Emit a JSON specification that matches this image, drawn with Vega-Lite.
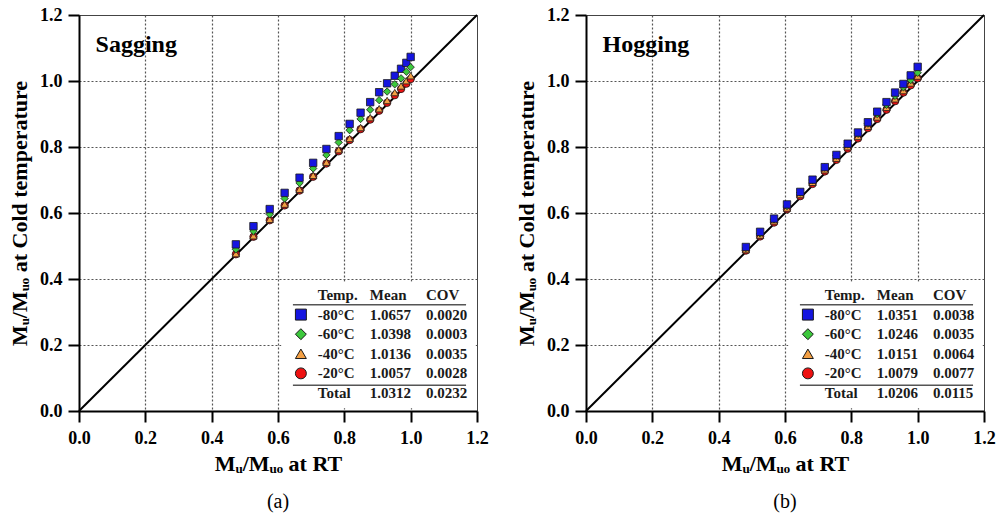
{
  "$schema": "https://vega.github.io/schema/vega-lite/v6.json",
  "autosize": {"type": "pad"},
  "padding": {"left": 8, "top": 5, "right": 5, "bottom": 5},
  "background": "white",
  "config": {
    "view": {"stroke": "#444", "strokeWidth": 1},
    "font": "Liberation Serif",
    "axis": {"labelFont": "Liberation Serif", "labelFontWeight": "bold", "labelFontSize": 18, "labelColor": "black",
             "titleFont": "Liberation Serif", "titleFontWeight": "bold", "titleFontSize": 22, "titleColor": "black",
             "tickWidth": 2, "domainColor": "black", "domainWidth": 2}
  },
  "bounds": "flush",
  "spacing": 109,
  "datasets": {
    "sag": [
      {"rt": 0.473, "t80": 0.505, "t60": 0.490, "t40": 0.477, "t20": 0.475},
      {"rt": 0.526, "t80": 0.560, "t60": 0.545, "t40": 0.531, "t20": 0.528},
      {"rt": 0.575, "t80": 0.612, "t60": 0.596, "t40": 0.581, "t20": 0.578},
      {"rt": 0.620, "t80": 0.661, "t60": 0.644, "t40": 0.627, "t20": 0.623},
      {"rt": 0.665, "t80": 0.707, "t60": 0.691, "t40": 0.672, "t20": 0.668},
      {"rt": 0.706, "t80": 0.752, "t60": 0.735, "t40": 0.714, "t20": 0.710},
      {"rt": 0.746, "t80": 0.794, "t60": 0.776, "t40": 0.754, "t20": 0.750},
      {"rt": 0.783, "t80": 0.833, "t60": 0.814, "t40": 0.792, "t20": 0.787},
      {"rt": 0.816, "t80": 0.870, "t60": 0.851, "t40": 0.826, "t20": 0.821},
      {"rt": 0.849, "t80": 0.904, "t60": 0.885, "t40": 0.859, "t20": 0.854},
      {"rt": 0.878, "t80": 0.936, "t60": 0.913, "t40": 0.889, "t20": 0.883},
      {"rt": 0.905, "t80": 0.966, "t60": 0.942, "t40": 0.916, "t20": 0.910},
      {"rt": 0.929, "t80": 0.993, "t60": 0.968, "t40": 0.941, "t20": 0.934},
      {"rt": 0.952, "t80": 1.016, "t60": 0.990, "t40": 0.965, "t20": 0.957},
      {"rt": 0.971, "t80": 1.037, "t60": 1.008, "t40": 0.985, "t20": 0.976},
      {"rt": 0.987, "t80": 1.055, "t60": 1.028, "t40": 1.001, "t20": 0.992},
      {"rt": 1.000, "t80": 1.073, "t60": 1.042, "t40": 1.016, "t20": 1.006}
    ],
    "hog": [
      {"rt": 0.482, "t80": 0.497, "t60": 0.494, "t40": 0.489, "t20": 0.486},
      {"rt": 0.525, "t80": 0.543, "t60": 0.538, "t40": 0.533, "t20": 0.529},
      {"rt": 0.567, "t80": 0.583, "t60": 0.581, "t40": 0.576, "t20": 0.571},
      {"rt": 0.606, "t80": 0.626, "t60": 0.621, "t40": 0.615, "t20": 0.611},
      {"rt": 0.646, "t80": 0.664, "t60": 0.662, "t40": 0.656, "t20": 0.651},
      {"rt": 0.683, "t80": 0.701, "t60": 0.700, "t40": 0.693, "t20": 0.688},
      {"rt": 0.720, "t80": 0.739, "t60": 0.738, "t40": 0.731, "t20": 0.726},
      {"rt": 0.755, "t80": 0.776, "t60": 0.774, "t40": 0.766, "t20": 0.761},
      {"rt": 0.789, "t80": 0.810, "t60": 0.808, "t40": 0.801, "t20": 0.795},
      {"rt": 0.820, "t80": 0.844, "t60": 0.840, "t40": 0.832, "t20": 0.826},
      {"rt": 0.850, "t80": 0.875, "t60": 0.871, "t40": 0.863, "t20": 0.857},
      {"rt": 0.878, "t80": 0.907, "t60": 0.900, "t40": 0.891, "t20": 0.885},
      {"rt": 0.906, "t80": 0.936, "t60": 0.928, "t40": 0.920, "t20": 0.913},
      {"rt": 0.932, "t80": 0.965, "t60": 0.955, "t40": 0.946, "t20": 0.939},
      {"rt": 0.957, "t80": 0.991, "t60": 0.981, "t40": 0.971, "t20": 0.965},
      {"rt": 0.979, "t80": 1.017, "t60": 1.003, "t40": 0.994, "t20": 0.987},
      {"rt": 1.000, "t80": 1.043, "t60": 1.025, "t40": 1.015, "t20": 1.008}
    ],
    "sagTable": [
      {"row": 0, "label": "Temp.", "mean": "Mean", "cov": "COV"},
      {"row": 1, "key": "t80", "label": "-80°C", "mean": "1.0657", "cov": "0.0020"},
      {"row": 2, "key": "t60", "label": "-60°C", "mean": "1.0398", "cov": "0.0003"},
      {"row": 3, "key": "t40", "label": "-40°C", "mean": "1.0136", "cov": "0.0035"},
      {"row": 4, "key": "t20", "label": "-20°C", "mean": "1.0057", "cov": "0.0028"},
      {"row": 5, "label": "Total", "mean": "1.0312", "cov": "0.0232"}
    ],
    "hogTable": [
      {"row": 0, "label": "Temp.", "mean": "Mean", "cov": "COV"},
      {"row": 1, "key": "t80", "label": "-80°C", "mean": "1.0351", "cov": "0.0038"},
      {"row": 2, "key": "t60", "label": "-60°C", "mean": "1.0246", "cov": "0.0035"},
      {"row": 3, "key": "t40", "label": "-40°C", "mean": "1.0151", "cov": "0.0064"},
      {"row": 4, "key": "t20", "label": "-20°C", "mean": "1.0079", "cov": "0.0077"},
      {"row": 5, "label": "Total", "mean": "1.0206", "cov": "0.0115"}
    ]
  },
  "hconcat": [
    {
      "width": 398, "height": 396,
      "title": {"text": "(a)", "orient": "bottom", "fontSize": 20, "fontWeight": "normal", "font": "Liberation Serif", "offset": 18, "color": "black"},
      "layer": [
        {"data": {"values": [{}]}, "mark": {"type": "rule", "strokeWidth": 2, "color": "black"},
         "encoding": {
           "x": {"datum": 0, "type": "quantitative", "scale": {"domain": [0, 1.2], "nice": false, "zero": false}, "axis": null},
           "x2": {"datum": 1.2},
           "y": {"datum": 0, "type": "quantitative", "scale": {"domain": [0, 1.2], "nice": false, "zero": false}, "axis": null},
           "y2": {"datum": 1.2}}},
        {
          "layer": [
            {"data": {"values": [{}]}, "mark": {"type": "rect", "fill": "white"},
             "encoding": {"x": {"datum": 0.61, "type": "quantitative"}, "x2": {"datum": 1.196},
                          "y": {"datum": 0.008, "type": "quantitative"}, "y2": {"datum": 0.392}}},
            {"data": {"name": "sag"},
             "transform": [{"fold": ["t20", "t40", "t60", "t80"], "as": ["key", "cold"]}],
             "mark": {"type": "point", "filled": true, "size": 55, "stroke": "#1a1a1a", "strokeWidth": 0.8, "opacity": 1},
             "encoding": {
               "x": {"field": "rt", "type": "quantitative", "scale": {"domain": [0, 1.2], "nice": false, "zero": false},
                     "axis": {"orient": "bottom", "values": [0, 0.2, 0.4, 0.6, 0.8, 1.0, 1.2], "format": ".1f",
                              "title": "Mᵤ/Mᵤₒ at RT",
                              "labelOverlap": false, "labelFlush": false, "ticks": true, "tickSize": 11, "tickColor": "black", "tickOpacity": 1,
                              "grid": true, "gridColor": "#555", "gridDash": [2, 2], "gridWidth": 1.2,
                              "gridOpacity": {"condition": {"test": "datum.value < 0.05 || datum.value > 1.15", "value": 0}, "value": 1},
                              "labelFont": "Liberation Serif", "labelFontWeight": "bold", "labelFontSize": 18, "labelPadding": 7, "titlePadding": 6}},
               "y": {"field": "cold", "type": "quantitative", "scale": {"domain": [0, 1.2], "nice": false, "zero": false},
                     "axis": {"orient": "left", "values": [0, 0.2, 0.4, 0.6, 0.8, 1.0, 1.2], "format": ".1f",
                              "title": "Mᵤ/Mᵤₒ at Cold temperature",
                              "labelOverlap": false, "labelFlush": false, "ticks": true, "tickSize": 11, "tickColor": "black", "tickOpacity": 1,
                              "grid": true, "gridColor": "#555", "gridDash": [2, 2], "gridWidth": 1.2,
                              "gridOpacity": {"condition": {"test": "datum.value < 0.05 || datum.value > 1.15", "value": 0}, "value": 1},
                              "labelFont": "Liberation Serif", "labelFontWeight": "bold", "labelFontSize": 18, "labelPadding": 6, "titlePadding": 8}},
               "shape": {"field": "key", "type": "nominal", "scale": {"domain": ["t80", "t60", "t40", "t20"], "range": ["square", "diamond", "triangle-up", "circle"]}, "legend": null},
               "color": {"field": "key", "type": "nominal", "scale": {"domain": ["t80", "t60", "t40", "t20"], "range": ["#1515e0", "#3cc83c", "#f4a044", "#ee1111"]}, "legend": null}
             }},
            {"data": {"values": [{}]}, "mark": {"type": "text", "text": "Sagging", "font": "Liberation Serif", "fontWeight": "bold", "fontSize": 24, "align": "left", "baseline": "middle", "color": "black"},
             "encoding": {"x": {"datum": 0.05, "type": "quantitative"}, "y": {"datum": 1.11, "type": "quantitative"}}}
          ]
        },
        {
          "layer": [
            {"data": {"values": [{}]}, "mark": {"type": "rule", "strokeWidth": 1.5, "color": "#555"},
             "encoding": {"x": {"datum": 0.645, "type": "quantitative", "axis": null}, "x2": {"datum": 1.167},
                          "y": {"datum": 0.5, "type": "quantitative", "axis": null, "scale": {"domain": [-14.29, 5.92], "reverse": true, "nice": false, "zero": false}}}},
            {"data": {"values": [{}]}, "mark": {"type": "rule", "strokeWidth": 1.5, "color": "#555"},
             "encoding": {"x": {"datum": 0.645, "type": "quantitative", "axis": null}, "x2": {"datum": 1.167},
                          "y": {"datum": 4.6, "type": "quantitative", "axis": null}}},
            {"data": {"name": "sagTable"},
             "transform": [{"filter": {"field": "key", "oneOf": ["t80", "t60", "t40", "t20"]}}],
             "mark": {"type": "point", "filled": true, "size": 120, "stroke": "#1a1a1a", "strokeWidth": 1, "opacity": 1},
             "encoding": {"x": {"datum": 0.669, "type": "quantitative", "axis": null},
                          "y": {"field": "row", "type": "quantitative", "axis": null},
                          "shape": {"field": "key", "type": "nominal", "legend": null},
                          "color": {"field": "key", "type": "nominal", "legend": null}}},
            {"data": {"name": "sagTable"},
             "mark": {"type": "text", "font": "Liberation Serif", "fontWeight": "bold", "fontSize": 15, "align": "left", "baseline": "middle", "color": "#1a1a1a"},
             "encoding": {"x": {"datum": 0.72, "type": "quantitative", "axis": null},
                          "y": {"field": "row", "type": "quantitative", "axis": null}, "text": {"field": "label"}}},
            {"data": {"name": "sagTable"},
             "mark": {"type": "text", "font": "Liberation Serif", "fontWeight": "bold", "fontSize": 15, "align": "left", "baseline": "middle", "color": "#1a1a1a"},
             "encoding": {"x": {"datum": 0.877, "type": "quantitative", "axis": null},
                          "y": {"field": "row", "type": "quantitative", "axis": null}, "text": {"field": "mean"}}},
            {"data": {"name": "sagTable"},
             "mark": {"type": "text", "font": "Liberation Serif", "fontWeight": "bold", "fontSize": 15, "align": "left", "baseline": "middle", "color": "#1a1a1a"},
             "encoding": {"x": {"datum": 1.046, "type": "quantitative", "axis": null},
                          "y": {"field": "row", "type": "quantitative", "axis": null}, "text": {"field": "cov"}}}
          ]
        }
      ],
      "resolve": {"scale": {"y": "independent"}, "axis": {"x": "independent", "y": "independent"}}
    },
    {
      "width": 398, "height": 396,
      "title": {"text": "(b)", "orient": "bottom", "fontSize": 20, "fontWeight": "normal", "font": "Liberation Serif", "offset": 18, "color": "black"},
      "layer": [
        {"data": {"values": [{}]}, "mark": {"type": "rule", "strokeWidth": 2, "color": "black"},
         "encoding": {
           "x": {"datum": 0, "type": "quantitative", "scale": {"domain": [0, 1.2], "nice": false, "zero": false}, "axis": null},
           "x2": {"datum": 1.2},
           "y": {"datum": 0, "type": "quantitative", "scale": {"domain": [0, 1.2], "nice": false, "zero": false}, "axis": null},
           "y2": {"datum": 1.2}}},
        {
          "layer": [
            {"data": {"values": [{}]}, "mark": {"type": "rect", "fill": "white"},
             "encoding": {"x": {"datum": 0.61, "type": "quantitative"}, "x2": {"datum": 1.196},
                          "y": {"datum": 0.008, "type": "quantitative"}, "y2": {"datum": 0.392}}},
            {"data": {"name": "hog"},
             "transform": [{"fold": ["t20", "t40", "t60", "t80"], "as": ["key", "cold"]}],
             "mark": {"type": "point", "filled": true, "size": 55, "stroke": "#1a1a1a", "strokeWidth": 0.8, "opacity": 1},
             "encoding": {
               "x": {"field": "rt", "type": "quantitative", "scale": {"domain": [0, 1.2], "nice": false, "zero": false},
                     "axis": {"orient": "bottom", "values": [0, 0.2, 0.4, 0.6, 0.8, 1.0, 1.2], "format": ".1f",
                              "title": "Mᵤ/Mᵤₒ at RT",
                              "labelOverlap": false, "labelFlush": false, "ticks": true, "tickSize": 11, "tickColor": "black", "tickOpacity": 1,
                              "grid": true, "gridColor": "#555", "gridDash": [2, 2], "gridWidth": 1.2,
                              "gridOpacity": {"condition": {"test": "datum.value < 0.05 || datum.value > 1.15", "value": 0}, "value": 1},
                              "labelFont": "Liberation Serif", "labelFontWeight": "bold", "labelFontSize": 18, "labelPadding": 7, "titlePadding": 6}},
               "y": {"field": "cold", "type": "quantitative", "scale": {"domain": [0, 1.2], "nice": false, "zero": false},
                     "axis": {"orient": "left", "values": [0, 0.2, 0.4, 0.6, 0.8, 1.0, 1.2], "format": ".1f",
                              "title": "Mᵤ/Mᵤₒ at Cold temperature",
                              "labelOverlap": false, "labelFlush": false, "ticks": true, "tickSize": 11, "tickColor": "black", "tickOpacity": 1,
                              "grid": true, "gridColor": "#555", "gridDash": [2, 2], "gridWidth": 1.2,
                              "gridOpacity": {"condition": {"test": "datum.value < 0.05 || datum.value > 1.15", "value": 0}, "value": 1},
                              "labelFont": "Liberation Serif", "labelFontWeight": "bold", "labelFontSize": 18, "labelPadding": 6, "titlePadding": 8}},
               "shape": {"field": "key", "type": "nominal", "scale": {"domain": ["t80", "t60", "t40", "t20"], "range": ["square", "diamond", "triangle-up", "circle"]}, "legend": null},
               "color": {"field": "key", "type": "nominal", "scale": {"domain": ["t80", "t60", "t40", "t20"], "range": ["#1515e0", "#3cc83c", "#f4a044", "#ee1111"]}, "legend": null}
             }},
            {"data": {"values": [{}]}, "mark": {"type": "text", "text": "Hogging", "font": "Liberation Serif", "fontWeight": "bold", "fontSize": 24, "align": "left", "baseline": "middle", "color": "black"},
             "encoding": {"x": {"datum": 0.05, "type": "quantitative"}, "y": {"datum": 1.11, "type": "quantitative"}}}
          ]
        },
        {
          "layer": [
            {"data": {"values": [{}]}, "mark": {"type": "rule", "strokeWidth": 1.5, "color": "#555"},
             "encoding": {"x": {"datum": 0.645, "type": "quantitative", "axis": null}, "x2": {"datum": 1.167},
                          "y": {"datum": 0.5, "type": "quantitative", "axis": null, "scale": {"domain": [-14.29, 5.92], "reverse": true, "nice": false, "zero": false}}}},
            {"data": {"values": [{}]}, "mark": {"type": "rule", "strokeWidth": 1.5, "color": "#555"},
             "encoding": {"x": {"datum": 0.645, "type": "quantitative", "axis": null}, "x2": {"datum": 1.167},
                          "y": {"datum": 4.6, "type": "quantitative", "axis": null}}},
            {"data": {"name": "hogTable"},
             "transform": [{"filter": {"field": "key", "oneOf": ["t80", "t60", "t40", "t20"]}}],
             "mark": {"type": "point", "filled": true, "size": 120, "stroke": "#1a1a1a", "strokeWidth": 1, "opacity": 1},
             "encoding": {"x": {"datum": 0.669, "type": "quantitative", "axis": null},
                          "y": {"field": "row", "type": "quantitative", "axis": null},
                          "shape": {"field": "key", "type": "nominal", "legend": null},
                          "color": {"field": "key", "type": "nominal", "legend": null}}},
            {"data": {"name": "hogTable"},
             "mark": {"type": "text", "font": "Liberation Serif", "fontWeight": "bold", "fontSize": 15, "align": "left", "baseline": "middle", "color": "#1a1a1a"},
             "encoding": {"x": {"datum": 0.72, "type": "quantitative", "axis": null},
                          "y": {"field": "row", "type": "quantitative", "axis": null}, "text": {"field": "label"}}},
            {"data": {"name": "hogTable"},
             "mark": {"type": "text", "font": "Liberation Serif", "fontWeight": "bold", "fontSize": 15, "align": "left", "baseline": "middle", "color": "#1a1a1a"},
             "encoding": {"x": {"datum": 0.877, "type": "quantitative", "axis": null},
                          "y": {"field": "row", "type": "quantitative", "axis": null}, "text": {"field": "mean"}}},
            {"data": {"name": "hogTable"},
             "mark": {"type": "text", "font": "Liberation Serif", "fontWeight": "bold", "fontSize": 15, "align": "left", "baseline": "middle", "color": "#1a1a1a"},
             "encoding": {"x": {"datum": 1.046, "type": "quantitative", "axis": null},
                          "y": {"field": "row", "type": "quantitative", "axis": null}, "text": {"field": "cov"}}}
          ]
        }
      ],
      "resolve": {"scale": {"y": "independent"}, "axis": {"x": "independent", "y": "independent"}}
    }
  ]
}
